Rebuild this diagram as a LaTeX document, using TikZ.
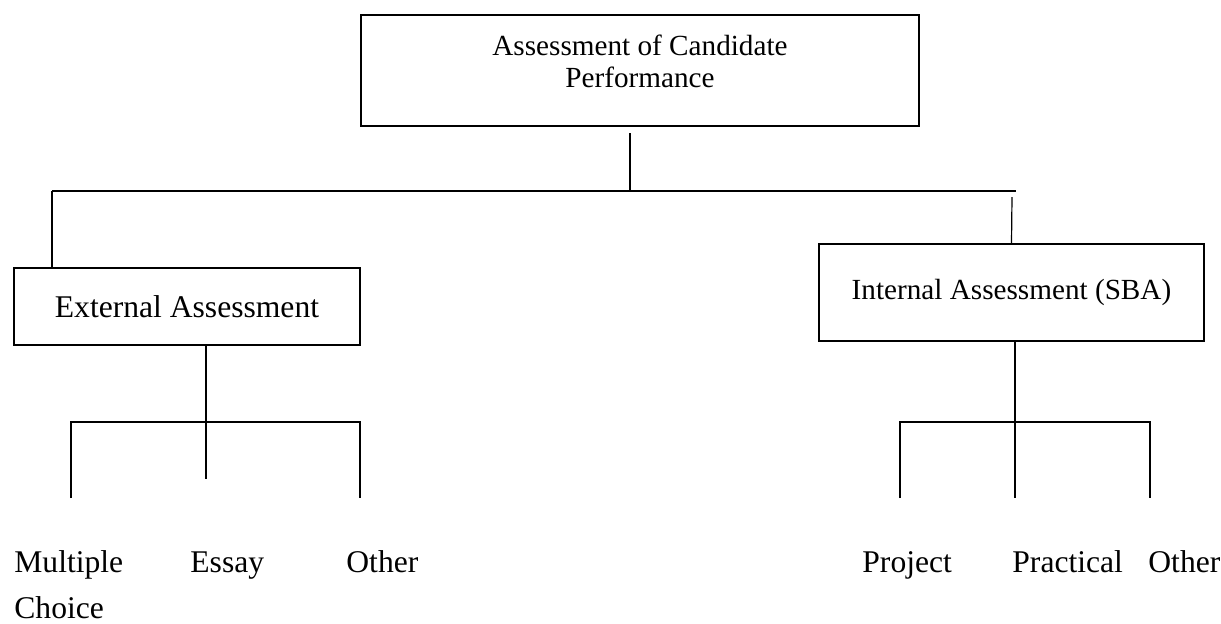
\documentclass[tikz,border=0pt]{standalone}
\usepackage{fontspec}
\setmainfont{Liberation Serif}
\begin{document}
\begin{tikzpicture}[x=0.5pt,y=-0.5pt,
  box/.style={draw, line width=0.8pt, inner sep=0pt},
  link/.style={line width=0.6pt},
  leaf/.style={anchor=base west, inner sep=0pt, font=\fontsize{15.8}{23}\selectfont}]
\useasboundingbox (0,0) rectangle (1221,623);

%boxes
\node[box, minimum width=279pt, minimum height=55.5pt] (perf) at (640,70.5) {};
\node[anchor=north, align=center, inner sep=0pt, font=\fontsize{14.6}{16}\selectfont] (perftext) at (640,35) {Assessment of Candidate\\Performance};
\node[box, minimum width=173pt, minimum height=38.5pt, font=\fontsize{15.8}{19}\selectfont] (ext) at (187,306.5) {External Assessment};
\node[box, minimum width=192.5pt, minimum height=48.5pt, font=\fontsize{14.6}{16}\selectfont] (int) at (1011.5,292.5) {Internal Assessment (SBA)};

%top branch
\coordinate (top) at (630,133);
\coordinate (barL) at (52,191);
\coordinate (barR) at (1016,191);
\coordinate (dropR) at (1012,197);
\draw[link] (top) -- (top |- barL);
\draw[link] (barL) -- (barR);
\draw[link] (barL) -- (barL |- ext.north);
\draw[link] (dropR) -- (int.north);

%external branch
\coordinate (extfoot) at (206,479);
\draw[link] (extfoot |- ext.south) -- (extfoot);
\draw[link] (71,498) -- (71,422) -- (360,422) -- (360,498);

%internal branch
\coordinate (intfoot) at (1015,498);
\draw[link] (intfoot |- int.south) -- (intfoot);
\draw[link] (900,498) -- (900,422) -- (1150,422) -- (1150,498);

%labels
\node[leaf, align=left, anchor=north west] (mc) at (14,550) {Multiple\\Choice};
\node[leaf] (essay) at (190,572) {Essay};
\node[leaf] (othA) at (346,572) {Other};
\node[leaf] (proj) at (862,572) {Project};
\node[leaf] (prac) at (1012,572) {Practical};
\node[leaf] (othB) at (1148,572) {Other};

\end{tikzpicture}
\end{document}
